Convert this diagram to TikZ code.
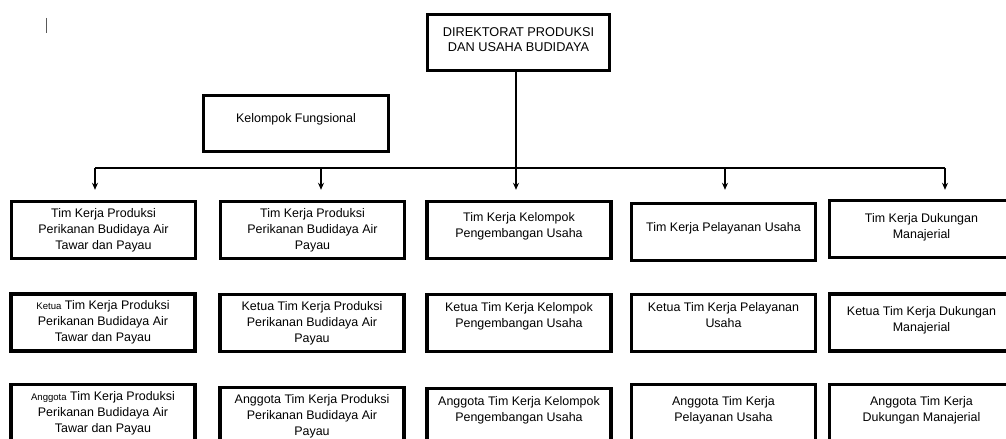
\documentclass[tikz,border=0pt]{standalone}
\usepackage{fontspec}
\setmainfont{Liberation Sans}
\usetikzlibrary{arrows.meta, calc, positioning}

\newcommand{\kecil}[1]{{\fontsize{9.6}{9}\selectfont #1}}

\begin{document}
\begin{tikzpicture}[x=1bp, y=-1bp,
	unitbox/.style={draw, line width=3.4bp, minimum width=184bp, minimum height=57bp,
		inner sep=0pt, align=center, font=\fontsize{12.5}{16}\selectfont},
	feed/.style={-{Stealth[length=7bp, width=6bp]}, line width=1.5bp}]
			\useasboundingbox (0,0) rectangle (1006,439);
			\draw[gray!70!black, line width=1bp] (46,18) -- (46,33);
			\node[unitbox, minimum width=182bp, minimum height=56bp,
				font=\fontsize{12.8}{15}\selectfont] (dir) at (518.5,42.5)
				{DIREKTORAT PRODUKSI\\DAN USAHA BUDIDAYA\\[-9bp]};
			\node[unitbox, minimum width=185bp, minimum height=56bp] (fung) at (296,123.5)
				{Kelompok Fungsional\\[-5bp]};
			% baris tim kerja
			\node[unitbox] (t1) at (103.5,230) {Tim Kerja Produksi\\Perikanan Budidaya Air\\Tawar dan Payau};
			\node[unitbox] (t2) at (312.5,230) {Tim Kerja Produksi\\Perikanan Budidaya Air\\Payau};
			\node[unitbox] (t3) at (519,230) {Tim Kerja Kelompok\\Pengembangan Usaha\\[-6bp]};
			\node[unitbox] (t4) at (723.5,232) {Tim Kerja Pelayanan Usaha\\[-6bp]};
			\node[unitbox] (t5) at (921.5,229) {Tim Kerja Dukungan\\Manajerial\\[-10bp]};
			% baris ketua
			\node[unitbox] (k1) at (103,322.5) {\kecil{Ketua} Tim Kerja Produksi\\Perikanan Budidaya Air\\Tawar dan Payau};
			\node[unitbox] (k2) at (312,323) {Ketua Tim Kerja Produksi\\Perikanan Budidaya Air\\Payau};
			\node[unitbox] (k3) at (519,323) {Ketua Tim Kerja Kelompok\\Pengembangan Usaha\\[0bp]};
			\node[unitbox] (k4) at (723.5,323) {Ketua Tim Kerja Pelayanan\\Usaha\\[0bp]};
			\node[unitbox] (k5) at (921.5,322.5) {Ketua Tim Kerja Dukungan\\Manajerial\\[-9bp]};
			% baris anggota
			\node[unitbox] (a1) at (103,413) {\kecil{Anggota} Tim Kerja Produksi\\Perikanan Budidaya Air\\Tawar dan Payau};
			\node[unitbox] (a2) at (312,416) {Anggota Tim Kerja Produksi\\Perikanan Budidaya Air\\Payau};
			\node[unitbox] (a3) at (519,417) {Anggota Tim Kerja Kelompok\\Pengembangan Usaha\\[0bp]};
			\node[unitbox] (a4) at (723.5,413) {Anggota Tim Kerja\\Pelayanan Usaha\\[-8bp]};
			\node[unitbox] (a5) at (921.5,413) {Anggota Tim Kerja\\Dukungan Manajerial\\[-7bp]};
			% garis penghubung
			\coordinate (bus1) at (95,168);
			\coordinate (bus2) at (321,168);
			\coordinate (bus3) at (516,168);
			\coordinate (bus4) at (725,168);
			\coordinate (bus5) at (945,168);
			\draw[line width=1.5bp] (bus1) -- (bus5);
			\draw[feed] (dir.south -| bus3) -- ([yshift=10bp]bus3 |- t3.north);
			\draw[feed] (bus1) -- ([yshift=10bp]bus1 |- t1.north);
			\draw[feed] (bus2) -- ([yshift=10bp]bus2 |- t2.north);
			\draw[feed] (bus4) -- ([yshift=12bp]bus4 |- t4.north);
			\draw[feed] (bus5) -- ([yshift=9bp]bus5 |- t5.north);
		\end{tikzpicture}
\end{document}
